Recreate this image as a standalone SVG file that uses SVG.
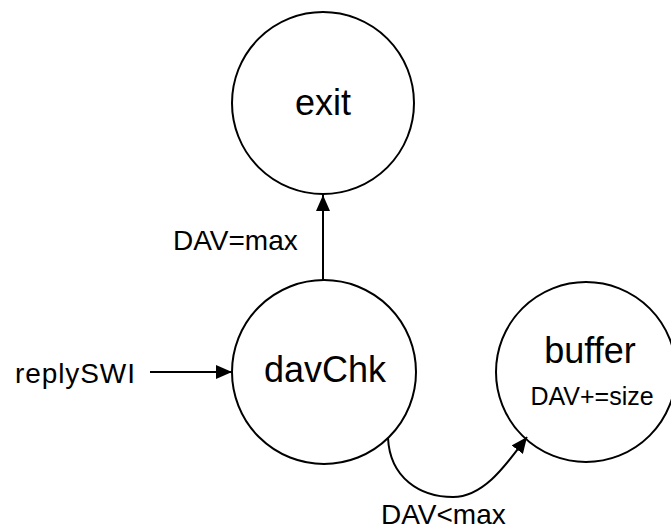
<svg xmlns="http://www.w3.org/2000/svg" width="671" height="529" viewBox="0 0 671 529">
  <style>
    .state { fill: #ffffff; stroke: #000000; stroke-width: 2; }
    .name { font-family: "Liberation Sans", Arial, sans-serif; font-size: 36px; fill: #000000; text-anchor: middle; }
    .label { font-family: "Liberation Sans", Arial, sans-serif; font-size: 28px; fill: #000000; }
    .small { font-family: "Liberation Sans", Arial, sans-serif; font-size: 25px; fill: #000000; text-anchor: middle; }
    .edge { fill: none; stroke: #000000; stroke-width: 2; }
  </style>
  <defs>
    <marker id="head" viewBox="0 0 16 14" refX="16" refY="7" markerWidth="16" markerHeight="14" markerUnits="userSpaceOnUse" orient="auto">
      <path d="M0,0 L16,7 L0,14 Z" fill="#000000"/>
    </marker>
  </defs>

  <rect width="671" height="529" fill="#ffffff"/>

  <g id="exit">
    <circle class="state" cx="323" cy="103" r="91"/>
    <text class="name" x="323" y="115">exit</text>
  </g>

  <g id="davChk">
    <circle class="state" cx="324" cy="372" r="92"/>
    <text class="name" x="325" y="382">davChk</text>
  </g>

  <g id="buffer">
    <circle class="state" cx="586" cy="372" r="90"/>
    <text class="name" x="590" y="363">buffer</text>
    <text class="small" x="592" y="405">DAV+=size</text>
  </g>

  <g id="connectors">
    <line class="edge" x1="150" y1="372" x2="232" y2="372" marker-end="url(#head)"/>
    <line class="edge" x1="323" y1="280" x2="323" y2="195" marker-end="url(#head)"/>
    <path class="edge" d="M388,438 C390,478 420,497 453,497 C485,497 508,462 527,437" marker-end="url(#head)"/>
  </g>

  <g id="labels">
    <text class="label" x="15" y="383" textLength="120" lengthAdjust="spacing">replySWI</text>
    <text class="label" x="173" y="250">DAV=max</text>
    <text class="label" x="381" y="524">DAV&lt;max</text>
  </g>
</svg>
